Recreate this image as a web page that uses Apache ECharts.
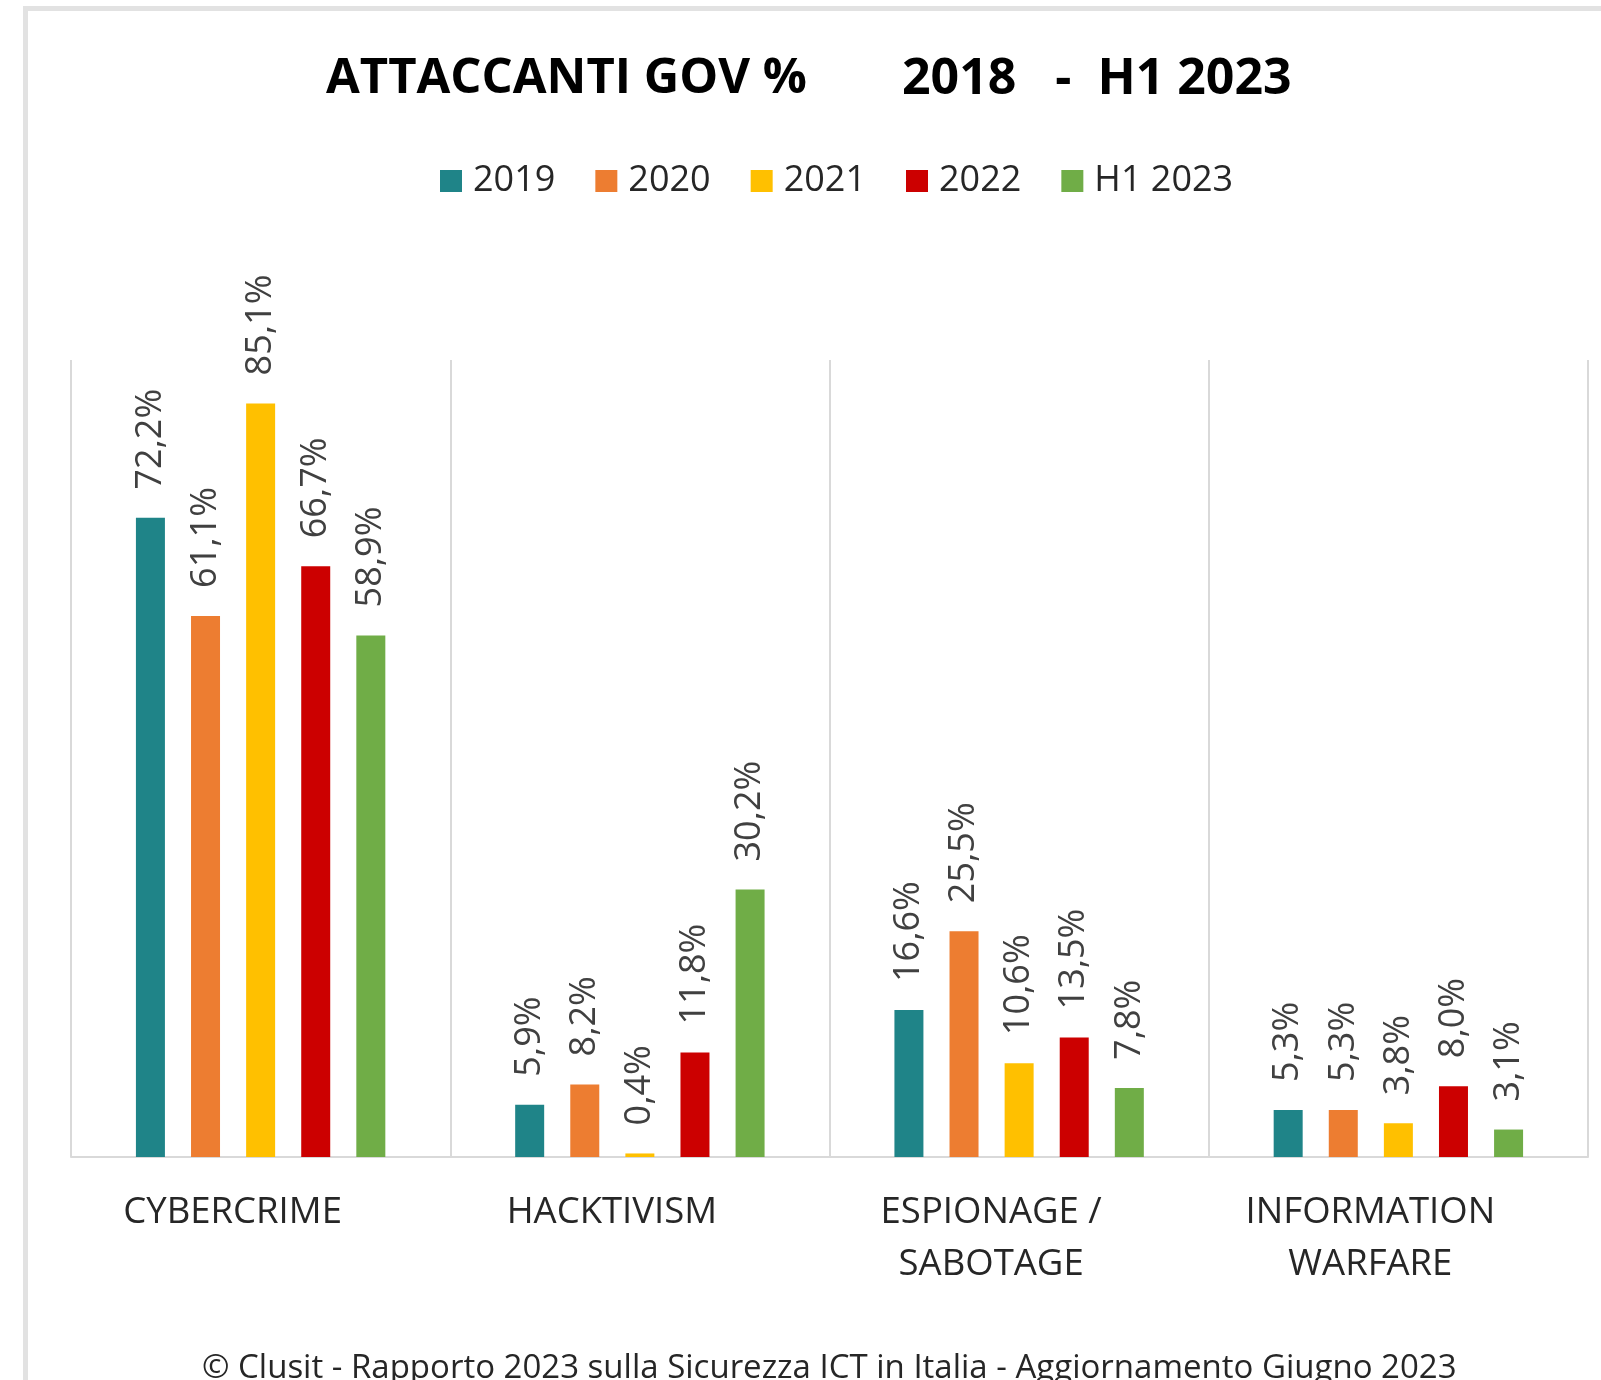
<!DOCTYPE html>
<html>
<head>
<meta charset="utf-8">
<script src="https://cdn.jsdelivr.net/npm/echarts@6/dist/echarts.min.js"></script>
<style>
html,body{margin:0;padding:0;background:#fff;}
#chart{width:1601px;height:1380px;}
</style>
</head>
<body>
<div id="chart"></div>
<script>
const titlePart1 = 'ATTACCANTI GOV %';
const titlePart2 = '2018   -  H1 2023';
const footerText = '\u00A9 Clusit - Rapporto 2023 sulla Sicurezza ICT in Italia - Aggiornamento Giugno 2023';
const categories = ['CYBERCRIME', 'HACKTIVISM', 'ESPIONAGE /\nSABOTAGE', 'INFORMATION\nWARFARE'];
const seriesNames = ['2019', '2020', '2021', '2022', 'H1 2023'];
const v2019 = [72.2, 5.9, 16.6, 5.3];
const v2020 = [61.1, 8.2, 25.5, 5.3];
const v2021 = [85.1, 0.4, 10.6, 3.8];
const v2022 = [66.7, 11.8, 13.5, 8.0];
const vH12023 = [58.9, 30.2, 7.8, 3.1];
const colors = ['#1F8488', '#ED7D31', '#FFC000', '#CC0000', '#70AD47'];

const allValues = [v2019, v2020, v2021, v2022, vH12023];
const FONT = "'Open Sans', 'Noto Sans', sans-serif";
const titleStyle = { fontFamily: FONT, fontSize: 50, fontWeight: 'bold', color: '#000000' };

const chart = echarts.init(document.getElementById('chart'));
chart.setOption({
  animation: false,
  backgroundColor: '#ffffff',
  color: colors,
  title: [
    { text: titlePart1, left: 326, top: 55, padding: 0, textStyle: Object.assign({}, titleStyle, { fontSize: 49 }) },
    { text: titlePart2, left: 902, top: 55, padding: 0, textStyle: titleStyle }
  ],
  legend: {
    data: seriesNames,
    left: 440,
    top: 163,
    padding: 0,
    itemWidth: 22,
    itemHeight: 22,
    itemGap: 40,
    icon: 'rect',
    textStyle: { fontFamily: FONT, fontSize: 36, color: '#262626', padding: [0, 0, 0, 6] }
  },
  graphic: [
    {
      type: 'rect',
      shape: { x: 25.5, y: 8.5, width: 1700, height: 1500 },
      style: { fill: 'none', stroke: '#e2e2e2', lineWidth: 5 },
      silent: true
    },
    {
      type: 'text',
      left: 202,
      top: 1352,
      style: { text: footerText, fontFamily: FONT, fontSize: 33, fill: '#262626' }
    }
  ],
  grid: { left: 71, right: 13, top: 360, bottom: 223, containLabel: false },
  xAxis: {
    type: 'category',
    data: categories,
    boundaryGap: true,
    axisLine: { show: true, lineStyle: { color: '#d9d9d9', width: 2 } },
    axisTick: { show: false },
    splitLine: { show: true, lineStyle: { color: '#d9d9d9', width: 2 } },
    axisLabel: {
      fontFamily: FONT, fontSize: 36.5, color: '#262626', margin: 30, lineHeight: 52, interval: 0,
      padding: [0, 56, 0, 0]
    }
  },
  yAxis: {
    type: 'value',
    min: 0,
    max: 90,
    show: false,
    splitLine: { show: false }
  },
  series: seriesNames.map((name, i) => ({
    name: name,
    type: 'bar',
    data: allValues[i],
    barWidth: 29,
    barGap: '90%',
    itemStyle: { color: colors[i] },
    label: {
      show: true,
      position: 'top',
      rotate: 90,
      align: 'left',
      verticalAlign: 'middle',
      distance: 28,
      fontFamily: FONT,
      fontSize: 36,
      color: '#404040',
      formatter: p => p.value.toFixed(1).replace('.', ',') + '%'
    }
  }))
});
</script>
</body>
</html>
